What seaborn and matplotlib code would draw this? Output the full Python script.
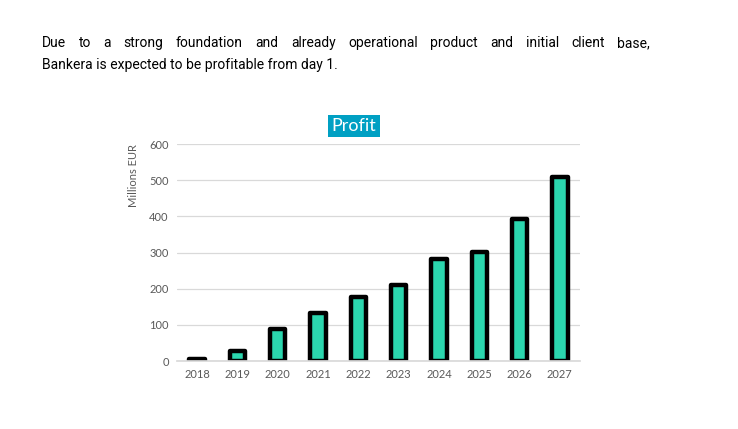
import pandas as pd
import matplotlib
matplotlib.use("Agg")
import matplotlib.pyplot as plt
import seaborn as sns

# ── DATA ────────────────────────────────────────────────────────────────────
years  = ["2018", "2019", "2020", "2021", "2022", "2023", "2024", "2025", "2026", "2027"]
profit = [5, 28, 88, 132, 178, 210, 282, 301, 392, 510]
y_ticks = [0, 100, 200, 300, 400, 500, 600]
intro_lines = [
    "Due to a strong foundation and already operational product and initial client base,",
    "Bankera is expected to be profitable from day 1.",
]

df = pd.DataFrame({"year": years, "profit": profit})

sns.set_theme(style="white")
plt.rcParams["font.family"] = ["Lato", "DejaVu Sans"]

W, H = 738, 429
fig = plt.figure(figsize=(W / 100, H / 100), dpi=100)
ax = fig.add_axes([177 / W, 1 - 361 / H, (580 - 177) / W, (361 - 144) / H])

sns.barplot(
    data=df, x="year", y="profit", ax=ax,
    color="#2BD6AE", saturation=1, width=0.38,
    edgecolor="black", linewidth=3.2,
)
for p in ax.patches:
    p.set_joinstyle("round")

ax.set_ylim(0, 600)
ax.set_yticks(y_ticks)
ax.yaxis.grid(True, color="#D9D9D9", linewidth=0.9)
ax.set_axisbelow(True)
for side in ["top", "right", "left"]:
    ax.spines[side].set_visible(False)
ax.spines["bottom"].set_color("#D9D9D9")
ax.tick_params(axis="both", length=0, labelsize=8, colors="#595959", pad=6)
ax.set_xlabel("")
ax.set_ylabel("Millions EUR", fontsize=8, color="#595959", loc="top")
ax.yaxis.set_label_coords((139 - 177) / (580 - 177), 1.0)

# chart title in a coloured box
fig.text(354 / W, 1 - 126 / H, "Profit", ha="center", va="center",
         fontsize=13, color="white",
         bbox=dict(boxstyle="square,pad=0.18", facecolor="#00A0C3", edgecolor="none"))

# intro text, first line justified between x=42 and x=650
intro_font = dict(fontsize=10, color="black", family=["Roboto", "DejaVu Sans"])
renderer = fig.canvas.get_renderer()
left, right = 42, 650
for i, line in enumerate(intro_lines):
    y = 1 - (43 + i * 22) / H
    if i == len(intro_lines) - 1:
        fig.text(left / W, y, line, ha="left", va="center", **intro_font)
        continue
    words = line.split()
    texts = [fig.text(0, y, w_, ha="left", va="center", **intro_font) for w_ in words]
    widths = [t.get_window_extent(renderer).width for t in texts]
    gap = (right - left - sum(widths)) / (len(words) - 1)
    x = left
    for t, wd in zip(texts, widths):
        t.set_x(x / W)
        x += wd + gap

fig.savefig("out.png", dpi=100)
